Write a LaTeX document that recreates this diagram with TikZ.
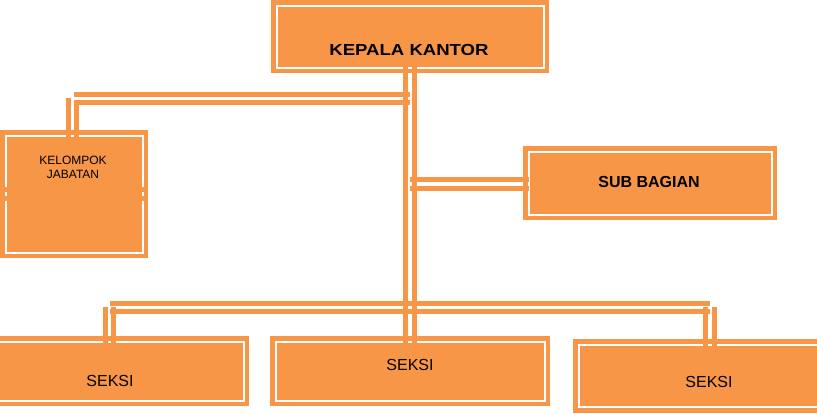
\documentclass[tikz,border=0pt]{standalone}
\usepackage{fontspec}
\setmainfont{Liberation Sans}
\definecolor{org}{HTML}{F79646}
\begin{document}
\begin{tikzpicture}[x=1pt,y=-1pt,
  orgbox/.style={rectangle, inner sep=0pt, outer sep=0pt, fill=org, draw=org,
    line width=4.5pt, double=white, double distance=2pt},
  conn/.style={draw=org, line width=5pt, line cap=butt},
  lbl/.style={inner sep=0pt, anchor=base, text=black}]
\useasboundingbox (0,0) rectangle (817,413);
\clip (0,0) rectangle (817,413);
% boxes
\node[orgbox, minimum width=267pt, minimum height=62pt] (kepala) at (410,36.5) {};
\node[orgbox, minimum width=137pt, minimum height=117pt] (kelompok) at (74,194) {};
\node[orgbox, minimum width=243pt, minimum height=63pt] (sub) at (650,183) {};
\node[orgbox, minimum width=258pt, minimum height=59pt] (seksiL) at (114.5,371) {};
\node[orgbox, minimum width=269pt, minimum height=59pt] (seksiM) at (410,371) {};
\node[orgbox, minimum width=246pt, minimum height=62.5pt] (seksiR) at (701.5,375.75) {};
% labels
\node[lbl, xscale=1.16] (tkepala) at (409,55) {\fontsize{16}{19}\selectfont\bfseries KEPALA KANTOR};
\node[lbl] (tkel1) at (73,164) {\fontsize{12}{14}\selectfont KELOMPOK};
\node[lbl] (tkel2) at (73,178) {\fontsize{12}{14}\selectfont JABATAN};
\node[lbl] (tsub) at (649,187) {\fontsize{16}{19}\selectfont\bfseries SUB BAGIAN};
\node[lbl] (tsL) at (110,386) {\fontsize{16}{19}\selectfont SEKSI};
\node[lbl] (tsM) at (410,370) {\fontsize{16}{19}\selectfont SEKSI};
\node[lbl] (tsR) at (709,387) {\fontsize{16}{19}\selectfont SEKSI};
% connector points
\coordinate (tLa) at (405.5,66);  \coordinate (tLb) at (405.5,344);
\coordinate (tRa) at (414.5,66);  \coordinate (tRb) at (414.5,344);
\coordinate (k1a) at (74,94.5);   \coordinate (k1b) at (410,94.5);
\coordinate (k2a) at (74,102.5);  \coordinate (k2b) at (410,102.5);
\coordinate (kv1a) at (68.5,98);  \coordinate (kv1b) at (68.5,137);
\coordinate (kv2a) at (76.5,100); \coordinate (kv2b) at (76.5,137);
\coordinate (s1a) at (410,179.5); \coordinate (s1b) at (529,179.5);
\coordinate (s2a) at (410,188.5); \coordinate (s2b) at (529,188.5);
\coordinate (b1a) at (110,303.5); \coordinate (b1b) at (710,303.5);
\coordinate (b2a) at (110,311.5); \coordinate (b2b) at (710,311.5);
\coordinate (l1a) at (105.5,307); \coordinate (l1b) at (105.5,344);
\coordinate (l2a) at (113.5,307); \coordinate (l2b) at (113.5,344);
\coordinate (r1a) at (705.5,307); \coordinate (r1b) at (705.5,346);
\coordinate (r2a) at (714.5,307); \coordinate (r2b) at (714.5,346);
\coordinate (x1a) at (0,189.5);   \coordinate (x1b) at (146,189.5);
\coordinate (x2a) at (0,198.5);   \coordinate (x2b) at (146,198.5);
% connectors
\draw[conn] (tLa) -- (tLb);
\draw[conn] (tRa) -- (tRb);
\draw[conn] (k1a) -- (k1b);
\draw[conn] (k2a) -- (k2b);
\draw[conn] (kv1a) -- (kv1b);
\draw[conn] (kv2a) -- (kv2b);
\draw[conn] (s1a) -- (s1b);
\draw[conn] (s2a) -- (s2b);
\draw[conn] (b1a) -- (b1b);
\draw[conn] (b2a) -- (b2b);
\draw[conn] (l1a) -- (l1b);
\draw[conn] (l2a) -- (l2b);
\draw[conn] (r1a) -- (r1b);
\draw[conn] (r2a) -- (r2b);
\draw[conn] (x1a) -- (x1b);
\draw[conn] (x2a) -- (x2b);
\end{tikzpicture}
\end{document}
